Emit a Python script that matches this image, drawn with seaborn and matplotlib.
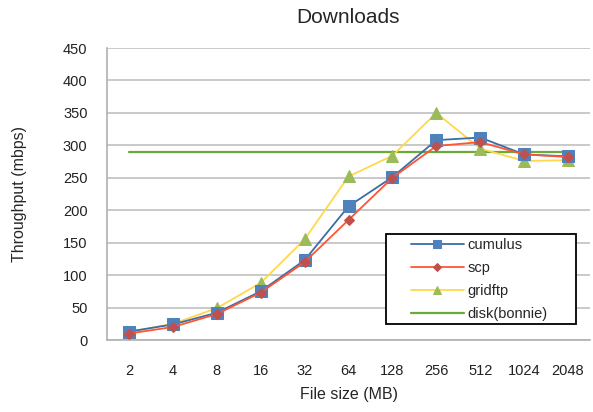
import matplotlib
matplotlib.use("Agg")
import matplotlib.pyplot as plt
from matplotlib.patches import Rectangle
import seaborn as sns
import numpy as np
import pandas as pd

sizes = ["2", "4", "8", "16", "32", "64", "128", "256", "512", "1024", "2048"]
cumulus = [13, 24, 42, 75, 123, 206, 251, 308, 312, 286, 283]
scp = [10, 20, 40, 73, 120, 185, 250, 299, 305, 286, 282]
gridftp = [12, 25, 49, 88, 155, 252, 284, 350, 295, 276, 277]
disk = [290] * 11

sns.set_style("white")
plt.rcParams['font.family'] = ['Liberation Sans', 'DejaVu Sans']

W, H = 593, 412
L, R, T, B = 107, 590, 48, 340
fig = plt.figure(figsize=(W/100, H/100), dpi=100)
ax = fig.add_axes([L/W, 1-B/H, (R-L)/W, (B-T)/H])

def ax_x(px):
    return (px - L) / (R - L)

def ax_y(py):
    return (B - py) / (B - T)

idx = np.arange(len(sizes))
df = pd.DataFrame({"pos": idx, "cumulus": cumulus, "scp": scp,
                   "gridftp": gridftp, "disk": disk})

sns.lineplot(data=df, x="pos", y="cumulus", ax=ax, color="#3a6ea5", lw=1.3,
             marker="s", markersize=8, markerfacecolor="#4f81bd",
             markeredgecolor="#4f81bd", label="cumulus", zorder=4)
sns.lineplot(data=df, x="pos", y="scp", ax=ax, color="#ff5533", lw=1.3,
             marker="D", markersize=5.5, markerfacecolor="#c0504d",
             markeredgecolor="#c0504d", label="scp", zorder=5)
sns.lineplot(data=df, x="pos", y="gridftp", ax=ax, color="#ffd84d", lw=1.3,
             marker="^", markersize=8.5, markerfacecolor="#9bbb59",
             markeredgecolor="#9bbb59", label="gridftp", zorder=3)
sns.lineplot(data=df, x="pos", y="disk", ax=ax, color="#6aaa3a", lw=1.6,
             label="disk(bonnie)", zorder=2)

ax.set_xlim(-0.5, 10.5)
ax.set_ylim(0, 450)
ax.set_yticks(range(0, 451, 50))
ax.set_xticks(idx)
ax.set_xticklabels(sizes)
ax.grid(axis="y", color="#c0c0c0", lw=1.2)
ax.set_axisbelow(True)
for s in ["top", "right"]:
    ax.spines[s].set_visible(False)
for s in ["left", "bottom"]:
    ax.spines[s].set_color("#b0b0b0")
    ax.spines[s].set_linewidth(1.2)
ax.tick_params(axis="both", length=0, labelsize=10.5, colors="#222222")
ax.tick_params(axis="x", pad=17)
ax.tick_params(axis="y", pad=14)

ax.set_xlabel("File size (MB)", fontsize=11.5, labelpad=7)
ax.set_ylabel("Throughput (mbps)", fontsize=11.5, labelpad=26)
ax.set_title("Downloads", fontsize=15, pad=18)

leg = ax.legend(loc="upper left", bbox_to_anchor=(ax_x(411), ax_y(238)),
                frameon=False, fontsize=10.5, borderaxespad=0, borderpad=0,
                handlelength=3.6, handletextpad=0.3, labelspacing=0.62,
                markerscale=0.75)
ax.add_patch(Rectangle((ax_x(386), ax_y(324)), ax_x(576) - ax_x(386),
                       ax_y(234) - ax_y(324), transform=ax.transAxes,
                       facecolor="white", edgecolor="black", lw=1.3,
                       zorder=6))
leg.set_zorder(7)

fig.savefig("out.png", dpi=100)
